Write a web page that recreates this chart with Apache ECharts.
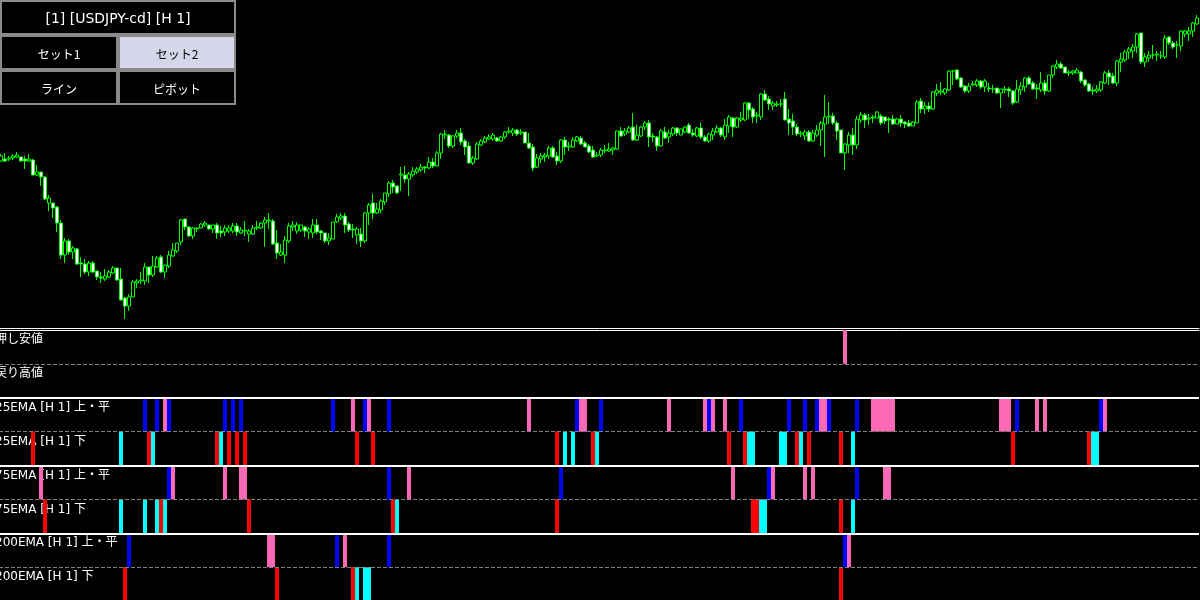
<!DOCTYPE html>
<html>
<head>
<meta charset="utf-8">
<script src="https://cdn.jsdelivr.net/npm/echarts@6/dist/echarts.min.js"></script>
<style>
html,body{margin:0;padding:0;background:#000;}
#chart{width:1200px;height:600px;}
</style>
</head>
<body>
<div id="chart"></div>
<script>
// ---- Candles: [open, close, low-edge, high-edge] on an inverted price axis (larger = lower price) ----
const candles = [
[161,156,154,162],[159,161,153,162],[159,158,156,161],[158,156,154,160],[157,155,152,158],
[157,161,157,162],[159,161,156,169],[161,159,154,162],[160,175,159,175],[175,172,165,176],
[172,177,172,186],[177,199,176,200],[203,198,195,211],[203,208,203,218],[207,223,206,232],
[223,255,220,259],[255,241,238,263],[241,252,239,255],[252,248,246,259],[249,264,248,265],
[263,264,257,277],[264,272,259,274],[272,263,261,276],[263,272,261,273],[271,277,271,280],
[277,278,272,283],[279,276,269,281],[277,272,270,278],[273,268,266,274],[268,280,268,281],
[279,300,268,301],[298,306,297,319],[306,297,294,311],[297,282,280,297],[283,281,279,288],
[281,280,272,284],[281,267,263,285],[267,275,267,283],[275,266,256,277],[267,258,256,268],
[257,272,255,273],[272,265,265,278],[266,255,251,268],[256,250,243,257],[251,243,243,253],
[242,220,219,245],[219,227,219,230],[227,236,226,237],[236,228,227,239],[229,228,227,232],
[228,224,223,228],[225,223,221,227],[225,229,225,230],[229,225,225,233],[225,233,223,239],
[231,233,226,237],[232,228,225,236],[231,228,225,233],[231,226,223,233],[226,232,223,236],
[233,230,227,234],[231,230,221,236],[234,231,229,242],[234,228,225,235],[228,227,221,230],
[228,223,222,229],[223,220,217,247],[221,220,213,229],[221,244,219,245],[243,253,230,259],
[255,252,244,256],[255,240,236,263],[241,226,223,243],[227,225,221,231],[231,225,222,234],
[230,225,225,232],[227,231,226,237],[232,229,227,239],[233,225,219,238],[225,232,219,234],
[231,233,230,240],[233,241,233,243],[241,238,233,245],[239,222,222,239],[222,217,214,223],
[218,216,213,220],[216,225,213,233],[224,230,222,232],[229,230,224,238],[235,229,227,244],
[234,241,228,247],[241,213,212,243],[213,205,203,225],[203,213,194,219],[213,209,203,214],
[210,201,199,213],[202,193,193,205],[194,183,181,197],[183,187,180,193],[186,193,185,194],
[175,174,167,191],[175,179,166,183],[179,174,172,196],[175,171,167,177],[172,169,167,174],
[170,167,164,172],[167,168,166,173],[168,162,157,169],[162,166,158,168],[166,153,151,166],
[153,134,133,159],[135,134,130,139],[135,146,134,148],[146,136,135,148],[136,133,130,138],
[133,142,128,145],[141,147,139,155],[146,163,142,163],[163,158,156,165],[159,144,142,160],
[145,141,139,146],[142,138,136,143],[139,137,134,140],[139,135,133,141],[138,141,137,142],
[141,137,136,142],[137,132,131,139],[132,131,127,134],[133,130,128,136],[130,134,129,136],
[133,132,129,135],[132,143,132,143],[143,148,133,149],[147,168,144,171],[167,158,154,168],
[159,156,153,163],[157,155,153,162],[156,148,146,159],[148,157,146,158],[156,161,152,165],
[161,140,139,163],[140,147,137,155],[147,146,142,151],[147,140,137,148],[141,137,136,142],
[138,144,136,145],[143,147,141,147],[146,152,144,153],[150,157,146,158],[156,155,152,157],
[155,150,148,157],[151,150,145,153],[151,149,143,152],[150,148,147,155],[149,131,131,150],
[131,136,127,137],[134,131,128,136],[132,128,126,133],[127,140,113,141],[140,135,125,141],
[136,127,126,137],[127,123,121,130],[123,137,120,147],[136,137,133,142],[137,146,136,151],
[146,131,129,147],[132,138,127,139],[137,133,130,143],[134,128,127,136],[128,133,127,136],
[135,129,129,135],[132,127,126,133],[125,133,123,134],[133,135,129,137],[136,128,127,137],
[128,137,123,139],[137,141,135,142],[141,134,133,143],[135,131,128,140],[132,128,125,133],
[128,135,127,137],[137,125,119,140],[126,117,115,133],[118,127,117,137],[127,118,117,128],
[120,118,112,122],[120,103,102,121],[103,110,102,119],[109,117,107,123],[116,115,112,123],
[117,94,93,120],[94,100,90,101],[99,104,96,110],[106,103,101,110],[105,104,101,107],
[104,104,99,107],[99,120,92,120],[119,123,109,135],[121,127,114,135],[127,134,124,136],
[134,133,131,137],[136,132,130,140],[132,141,130,142],[141,133,130,142],[135,130,125,137],
[130,123,121,146],[124,117,95,157],[117,116,102,124],[116,123,113,125],[123,131,121,140],
[130,153,130,153],[153,144,143,170],[145,135,132,153],[135,145,128,155],[145,119,116,149],
[120,115,112,123],[115,120,113,128],[119,118,114,125],[118,117,115,123],[118,112,111,118],
[116,123,114,125],[117,121,117,124],[119,120,117,133],[119,124,115,125],[124,119,118,124],
[119,123,115,127],[122,124,121,128],[123,126,120,127],[126,122,121,126],[123,102,100,123],
[101,109,98,113],[109,106,102,114],[106,109,102,112],[109,92,91,110],[93,90,84,96],
[92,91,82,95],[93,89,88,95],[90,71,70,91],[71,71,70,85],[70,79,69,80],
[78,87,77,88],[86,91,85,93],[91,86,83,93],[85,84,81,86],[85,81,79,87],
[81,87,80,89],[87,81,79,92],[88,89,83,92],[89,89,85,93],[88,93,88,94],
[93,89,89,108],[90,89,86,93],[89,91,87,97],[91,103,90,105],[102,89,80,103],
[90,86,82,95],[87,78,77,92],[78,84,76,85],[83,89,81,90],[88,89,84,99],
[90,83,72,92],[83,91,80,95],[91,75,75,92],[75,66,65,78],[67,64,60,69],
[64,68,62,69],[67,73,67,73],[73,72,70,76],[73,71,70,75],[73,70,68,73],
[72,81,71,83],[80,85,79,87],[84,91,83,92],[90,91,87,95],[91,89,85,93],
[90,82,81,92],[83,73,71,84],[73,77,70,85],[76,83,73,84],[83,61,60,86],
[62,59,53,72],[60,52,50,62],[52,49,47,59],[51,47,44,58],[47,34,33,53],
[33,62,33,64],[62,57,53,67],[58,55,51,62],[55,55,45,59],[55,54,51,61],
[56,56,51,59],[57,38,35,59],[37,43,36,45],[43,47,41,49],[45,45,41,58],
[46,31,30,51],[34,31,30,37],[34,31,27,41],[31,23,22,37],[24,18,15,25]
];

// ---- Indicator rows: [bar index, colour key] ----
const rowNames = ['押し安値','戻り高値','25EMA [H 1] 上・平','25EMA [H 1] 下','75EMA [H 1] 上・平','75EMA [H 1] 下','200EMA [H 1] 上・平','200EMA [H 1] 下'];
const pushLow  = [[211,'P']];
const pullHigh = [];
const ema25Up  = [[36,'B'],[39,'B'],[41,'P'],[42,'B'],[56,'B'],[58,'B'],[60,'B'],[83,'B'],[88,'P'],[91,'B'],[92,'P'],[97,'B'],[132,'P'],[144,'B'],[145,'P'],[146,'P'],[150,'B'],[167,'P'],[176,'P'],[177,'B'],[178,'P'],[181,'P'],[185,'B'],[197,'B'],[201,'B'],[204,'B'],[205,'P'],[206,'P'],[207,'B'],[214,'B'],[218,'P'],[219,'P'],[220,'P'],[221,'P'],[222,'P'],[223,'P'],[250,'P'],[251,'P'],[252,'P'],[254,'B'],[259,'P'],[261,'P'],[275,'B'],[276,'P']];
const ema25Dn  = [[8,'R'],[30,'C'],[37,'R'],[38,'C'],[54,'R'],[55,'C'],[57,'R'],[59,'R'],[61,'R'],[89,'R'],[93,'R'],[139,'R'],[141,'C'],[143,'C'],[148,'R'],[149,'C'],[182,'R'],[186,'R'],[187,'C'],[188,'C'],[195,'C'],[196,'C'],[199,'R'],[200,'C'],[202,'R'],[210,'R'],[213,'C'],[253,'R'],[272,'R'],[273,'C'],[274,'C']];
const ema75Up  = [[10,'P'],[42,'B'],[43,'P'],[56,'P'],[60,'P'],[61,'P'],[97,'B'],[102,'P'],[140,'B'],[183,'P'],[192,'B'],[193,'P'],[201,'P'],[203,'P'],[214,'B'],[221,'P'],[222,'P']];
const ema75Dn  = [[11,'R'],[30,'C'],[36,'C'],[39,'C'],[40,'R'],[41,'C'],[62,'R'],[98,'R'],[99,'C'],[139,'R'],[188,'R'],[189,'R'],[190,'C'],[191,'C'],[210,'R'],[213,'C']];
const ema200Up = [[32,'B'],[67,'P'],[68,'P'],[84,'B'],[86,'P'],[97,'B'],[211,'B'],[212,'P']];
const ema200Dn = [[31,'R'],[69,'R'],[88,'R'],[89,'C'],[91,'C'],[92,'C'],[210,'R']];

// ---- Panel buttons ----
const buttonTexts = ['[1] [USDJPY-cd] [H 1]','セット1','セット2','ライン','ピボット'];

const colorMap = {B:'#0000ff', P:'#ff69b4', R:'#ff0000', C:'#00ffff'};
const rows = [pushLow, pullHigh, ema25Up, ema25Dn, ema75Up, ema75Dn, ema200Up, ema200Dn];
const cells = [];
rows.forEach((arr, r) => arr.forEach(([s, c]) => cells.push([s, r, c])));
const slots = candles.map((_, i) => String(i));

const FONT = '"DejaVu Sans", "Noto Sans CJK JP", sans-serif';
const JFONT = '"Noto Sans CJK JP", sans-serif';

function button(x, y, w, h, text, active, font) {
  return {
    type: 'group',
    children: [
      {type: 'rect', shape: {x: x + 1, y: y + 1, width: w - 2, height: h - 2},
       style: {fill: active ? '#d6d6ea' : '#000', stroke: '#8a8a8a', lineWidth: 2}},
      {type: 'text', x: x + w / 2, y: y + h / 2 + 1.5,
       style: {text: text, fill: active ? '#000' : '#fff', font: font,
               textAlign: 'center', textVerticalAlign: 'middle'}}
    ]
  };
}

const chart = echarts.init(document.getElementById('chart'), null, {renderer: 'canvas'});
chart.setOption({
  backgroundColor: '#000',
  animation: false,
  grid: [
    {left: -1, top: 0, width: 1200, height: 328, containLabel: false, outerBoundsMode: 'none'},
    {left: -1, top: 330, width: 1200, height: 271, containLabel: false, outerBoundsMode: 'none'}
  ],
  xAxis: [
    {gridIndex: 0, type: 'category', data: slots, boundaryGap: true, position: 'bottom',
     axisLine: {show: true, onZero: false, lineStyle: {color: '#fff', width: 1}},
     axisTick: {show: false}, axisLabel: {show: false}, splitLine: {show: false}},
    {gridIndex: 1, type: 'category', data: slots, boundaryGap: true, position: 'top',
     axisLine: {show: true, onZero: false, lineStyle: {color: '#fff', width: 1}},
     axisTick: {show: false}, axisLabel: {show: false}, splitLine: {show: false}}
  ],
  yAxis: [
    {gridIndex: 0, type: 'value', inverse: true, min: 0, max: 328,
     axisLine: {show: false}, axisTick: {show: false}, axisLabel: {show: false}, splitLine: {show: false}},
    {gridIndex: 1, type: 'value', inverse: true, min: 0, max: 8, interval: 1, offset: 8,
     axisLine: {show: false}, axisTick: {show: false}, splitLine: {show: false},
     axisLabel: {inside: true, margin: 4, color: '#fff', fontSize: 12, fontFamily: FONT,
                 verticalAlign: 'top', align: 'left', showMaxLabel: false, padding: [4, 0, 0, 0],
                 formatter: v => rowNames[v] || ''}}
  ],
  graphic: [
    button(0, 0, 236, 35, buttonTexts[0], false, '14px "DejaVu Sans", sans-serif'),
    button(0, 35, 118, 35, buttonTexts[1], false, '12px ' + JFONT),
    button(118, 35, 118, 35, buttonTexts[2], true, '12px ' + JFONT),
    button(0, 70, 118, 35, buttonTexts[3], false, '12px ' + JFONT),
    button(118, 70, 118, 35, buttonTexts[4], false, '12px ' + JFONT)
  ],
  series: [
    {type: 'candlestick', xAxisIndex: 0, yAxisIndex: 0, data: candles, barWidth: 3, large: false,
     itemStyle: {color: '#ffffff', color0: '#000000', borderColor: '#00ff00', borderColor0: '#00ff00', borderWidth: 1}},
    {type: 'custom', xAxisIndex: 1, yAxisIndex: 1, data: cells.map(c => [c[0], c[1]]),
     encode: {x: 0, y: 1},
     renderItem: (params, api) => {
       const p = api.coord([api.value(0), api.value(1)]);
       const sz = api.size([1, 1]);
       const col = colorMap[cells[params.dataIndex][2]];
       return {type: 'rect',
               shape: {x: Math.round(p[0] - sz[0] / 2), y: p[1], width: Math.round(sz[0]), height: sz[1]},
               style: {fill: col, stroke: null, lineWidth: 0}};
     },
     markLine: {
       silent: true, symbol: 'none', label: {show: false},
       data: [1, 2, 3, 4, 5, 6, 7].map(v => v % 2 === 0
         ? {yAxis: v, lineStyle: {type: 'solid', color: '#ffffff', width: 2}}
         : {yAxis: v, lineStyle: {type: [4, 2], color: '#808080', width: 1}})
     }}
  ]
});
</script>
</body>
</html>
